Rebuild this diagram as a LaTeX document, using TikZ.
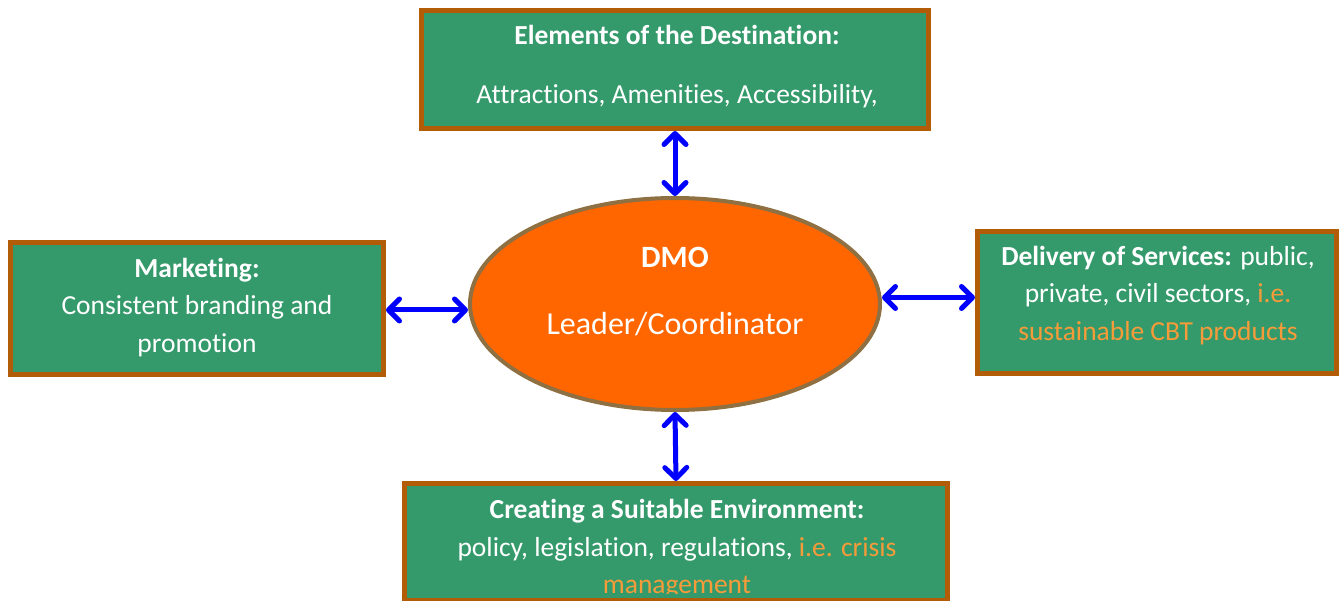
\documentclass[tikz,border=0pt]{standalone}
\usepackage{fontspec}
\setmainfont{Carlito}[Ligatures={NoCommon}]
\usetikzlibrary{arrows.meta,shapes.geometric}
\definecolor{boxgreen}{HTML}{359A6B}
\definecolor{boxbrown}{HTML}{B25C08}
\definecolor{ellorange}{HTML}{FF6600}
\definecolor{ellbrown}{HTML}{8E7043}
\definecolor{hl}{HTML}{F59B3A}
\definecolor{arrowblue}{HTML}{0000FF}
\tikzset{
  box/.style={draw=boxbrown, line width=5pt, fill=boxgreen, inner sep=0pt, rectangle},
  boxtext/.style={text=white, inner sep=0pt, align=center, font=\fontsize{27.5}{37.5}\selectfont},
  dmoshape/.style={ellipse, draw=ellbrown, line width=4pt, fill=ellorange, inner sep=0pt,
    minimum width=410pt, minimum height=212pt},
  tip/.tip={Straight Barb[round,length=11pt,width=22pt]},
  link/.style={draw=arrowblue, line width=5pt, line cap=round, tip-tip},
}
\begin{document}
\begin{tikzpicture}[x=1pt,y=-1pt]
\useasboundingbox (0,0) rectangle (1339,601);
\clip (0,0) rectangle (1339,601);
% boxes
\node[box, minimum width=507pt, minimum height=118pt] (top) at (675,69.5) {};
\node[box, minimum width=373pt, minimum height=132pt] (left) at (197,308.5) {};
\node[box, minimum width=359pt, minimum height=142pt] (right) at (1157,302.5) {};
\node[box, minimum width=543pt, minimum height=117pt] (bottom) at (676,542) {};
\node[dmoshape] (dmo) at (675,304) {};
% texts
\node[boxtext] (toptext) at (677,66.5)
  {\textbf{Elements of the Destination:}\\[21pt]Attractions, Amenities, Accessibility,};
\node[boxtext] (lefttext) at (197,307.5)
  {\textbf{Marketing:}\\Consistent branding and\\promotion};
\node[boxtext] (righttext) at (1158,295.5)
  {\textbf{Delivery of Services:} public,\\private, civil sectors, \textcolor{hl}{i.e.}\\\textcolor{hl}{sustainable CBT products}};
\begin{scope}
\clip (404,484) rectangle (948,593);
\node[boxtext] (bottomtext) at (677,549)
  {\textbf{Creating a Suitable Environment:}\\policy, legislation, regulations, \textcolor{hl}{i.e. crisis}\\\textcolor{hl}{management}};
\end{scope}
\node[text=white, inner sep=0pt, font=\fontsize{31}{31}\selectfont\bfseries] (dmotitle) at (675,257) {DMO};
\node[text=white, inner sep=0pt, font=\fontsize{32}{32}\selectfont] (dmorole) at (675,324) {Leader/Coordinator};
% connectors
\coordinate (lefta) at ([yshift=-1.5pt]left.east);
\coordinate (righta) at ([yshift=5pt]right.west);
\draw[link] (top.south) -- (dmo.north);
\draw[link] (dmo.south) -- (bottom.north);
\draw[link] (lefta) -- (dmo.west |- lefta);
\draw[link] (dmo.east |- righta) -- (righta);
\end{tikzpicture}
\end{document}
